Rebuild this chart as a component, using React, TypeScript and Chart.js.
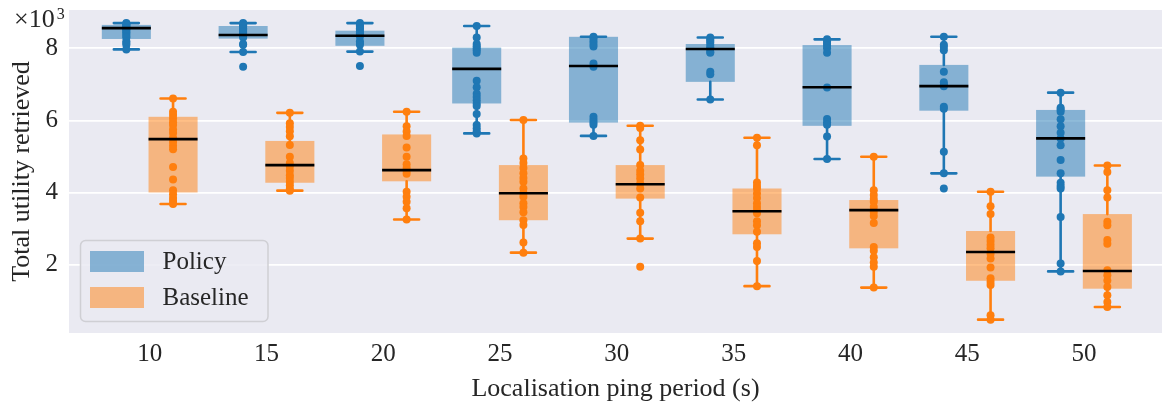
import React, { useEffect, useRef } from 'react';
import { Chart, registerables } from 'chart.js';

Chart.register(...registerables);

// ---------- data ----------
const periods = ['10', '15', '20', '25', '30', '35', '40', '45', '50'];
const yTickValues = [2000, 4000, 6000, 8000];

// Policy: individual runs per ping period
const policyPoints = [
  [8700, 8680, 8660, 8630, 8600, 8570, 8550, 8520, 8480, 8440, 8400, 8340, 8300, 8200, 8150, 8100, 7970],
  [8700, 8670, 8640, 8600, 8560, 8520, 8480, 8440, 8400, 8370, 8340, 8300, 8120, 8100, 7900, 7490],
  [8700, 8640, 8600, 8560, 8520, 8470, 8420, 8370, 8330, 8200, 8150, 8100, 7910, 7510],
  [8620, 8300, 8120, 8060, 8000, 7950, 7880, 7100, 6920, 6740, 6650, 6560, 6470, 6400, 6180, 5870, 5780, 5700, 5640],
  [8320, 8270, 8200, 8120, 8050, 7580, 7490, 6100, 6020, 5950, 5880, 5570],
  [8300, 8260, 8210, 8160, 8090, 8020, 7980, 7900, 7880, 7350, 7280, 6580],
  [8250, 8190, 8130, 8070, 8000, 7880, 6910, 6040, 5950, 5880, 5550, 4930],
  [8320, 8100, 8040, 7950, 7350, 7060, 6980, 6950, 6380, 6320, 5130, 4530, 4110],
  [6770, 6350, 6300, 6240, 6030, 5840, 5660, 5500, 5310, 4900, 4530, 4270, 4180, 4110, 3320, 2030, 1810],
];
const policyLow = [7970, 7900, 7910, 5640, 5570, 6580, 4930, 4530, 1810];
const policyQ1 = [8260, 8270, 8070, 6470, 5940, 7070, 5850, 6270, 4440];
const policyMedian = [8560, 8370, 8350, 7430, 7510, 7980, 6920, 6950, 5500];
const policyQ3 = [8650, 8620, 8490, 8020, 8320, 8120, 8090, 7540, 6290];
const policyHigh = [8700, 8700, 8700, 8620, 8320, 8300, 8250, 8320, 6770];

// Baseline: individual runs per ping period
const baselinePoints = [
  [6610, 6240, 6150, 6050, 5950, 5870, 5750, 5650, 5520, 5400, 5300, 5200, 4710, 4360, 4060, 3950, 3850, 3760, 3680],
  [6210, 5920, 5820, 5700, 5560, 5320, 4990, 4820, 4720, 4600, 4480, 4400, 4300, 4200, 4100, 4050],
  [6240, 5840, 5690, 5570, 5250, 4990, 4780, 4680, 4600, 4520, 4020, 3880, 3740, 3560, 3250],
  [6010, 4940, 4820, 4680, 4530, 4400, 4300, 4110, 3980, 3880, 3700, 3600, 3450, 3230, 3100, 2610, 2330],
  [5850, 5790, 5450, 5190, 4760, 4600, 4500, 4390, 4250, 4110, 3860, 3440, 3200, 2720, 1940],
  [5520, 5310, 4280, 4180, 4100, 3970, 3850, 3700, 3600, 3500, 3420, 3200, 3090, 2910, 2590, 2490, 2100, 1400],
  [4990, 4060, 3930, 3820, 3740, 3600, 3460, 3350, 3150, 2490, 2380, 2200, 2060, 1940, 1360],
  [4020, 3620, 3400, 2750, 2650, 2550, 2450, 2300, 2170, 1920, 1620, 1520, 1430, 590, 470],
  [4750, 4570, 4060, 3860, 3190, 3090, 2680, 2580, 1840, 1700, 1560, 1380, 1150, 960, 820],
];
const baselineLow = [3680, 4050, 3250, 2330, 2720, 1400, 1360, 470, 820];
const baselineQ1 = [4000, 4270, 4310, 3230, 3830, 2840, 2450, 1550, 1330];
const baselineMedian = [5480, 4760, 4620, 3980, 4230, 3480, 3510, 2350, 1820];
const baselineQ3 = [6100, 5430, 5610, 4760, 4760, 4110, 3790, 2930, 3400];
const baselineHigh = [6610, 6210, 6240, 6010, 5850, 5520, 4990, 4020, 4750];

// ---------- styling ----------
const FONT = "'Liberation Serif', 'Times New Roman', serif";
const TEXT = '#262626';
const PLOT_BG = '#EAEAF2';

const series = [
  {
    label: 'Policy', color: '#1f77b4', fill: 'rgba(31,119,180,0.5)', offset: -0.2,
    points: policyPoints, low: policyLow, q1: policyQ1, med: policyMedian, q3: policyQ3, high: policyHigh,
  },
  {
    label: 'Baseline', color: '#ff7f0e', fill: 'rgba(255,127,14,0.5)', offset: 0.2,
    points: baselinePoints, low: baselineLow, q1: baselineQ1, med: baselineMedian, q3: baselineQ3, high: baselineHigh,
  },
];

const BOX_HALF = 0.21;
const CAP_HALF = 0.107;

const boxPlugin = {
  id: 'boxPlot',
  beforeDraw(chart: any) {
    const { ctx, chartArea: a } = chart;
    ctx.save();
    ctx.fillStyle = PLOT_BG;
    ctx.fillRect(a.left, a.top, a.right - a.left, a.bottom - a.top);
    ctx.restore();
  },
  beforeDatasetsDraw(chart: any) {
    const { ctx, chartArea: a } = chart;
    const xs = chart.scales.x;
    const ys = chart.scales.y;
    ctx.save();
    ctx.beginPath();
    ctx.rect(a.left, a.top, a.right - a.left, a.bottom - a.top);
    ctx.clip();
    series.forEach((s) => {
      periods.forEach((_, i) => {
        const c = i + s.offset;
        const l = xs.getPixelForValue(c - BOX_HALF);
        const r = xs.getPixelForValue(c + BOX_HALF);
        const cx = xs.getPixelForValue(c);
        const top = ys.getPixelForValue(s.q3[i]);
        const bot = ys.getPixelForValue(s.q1[i]);
        ctx.fillStyle = s.fill;
        ctx.fillRect(l, top, r - l, bot - top);
        // whiskers
        ctx.strokeStyle = s.color;
        ctx.lineWidth = 2.6;
        ctx.lineCap = 'round';
        const hi = ys.getPixelForValue(s.high[i]);
        const lo = ys.getPixelForValue(s.low[i]);
        const cl = xs.getPixelForValue(c - CAP_HALF);
        const cr = xs.getPixelForValue(c + CAP_HALF);
        ctx.beginPath();
        ctx.moveTo(cx, top); ctx.lineTo(cx, hi);
        ctx.moveTo(cx, bot); ctx.lineTo(cx, lo);
        ctx.moveTo(cl, hi); ctx.lineTo(cr, hi);
        ctx.moveTo(cl, lo); ctx.lineTo(cr, lo);
        ctx.stroke();
      });
    });
    ctx.restore();
  },
  afterDatasetsDraw(chart: any) {
    const { ctx } = chart;
    const xs = chart.scales.x;
    const ys = chart.scales.y;
    ctx.save();
    ctx.strokeStyle = '#000000';
    ctx.lineWidth = 2.6;
    ctx.lineCap = 'butt';
    series.forEach((s) => {
      periods.forEach((_, i) => {
        const c = i + s.offset;
        const l = xs.getPixelForValue(c - BOX_HALF);
        const r = xs.getPixelForValue(c + BOX_HALF);
        const m = ys.getPixelForValue(s.med[i]);
        ctx.beginPath();
        ctx.moveTo(l, m); ctx.lineTo(r, m);
        ctx.stroke();
      });
    });
    ctx.restore();
  },
  afterDraw(chart: any) {
    const { ctx, chartArea: a } = chart;
    ctx.save();
    // offset label (x10^3)
    ctx.fillStyle = TEXT;
    ctx.textBaseline = 'alphabetic';
    ctx.textAlign = 'left';
    ctx.font = `26px ${FONT}`;
    ctx.fillText('×10', 14, 27);
    const w = ctx.measureText('×10').width;
    ctx.font = `16px ${FONT}`;
    ctx.fillText('3', 14 + w + 2, 18.5);

    // legend
    const fx = a.left + 11.5;
    const fy = a.bottom - 92.5;
    const fw = 187.5;
    const fh = 81;
    ctx.beginPath();
    ctx.roundRect(fx, fy, fw, fh, 5);
    ctx.fillStyle = 'rgba(234,234,242,0.85)';
    ctx.fill();
    ctx.strokeStyle = '#cfcfd4';
    ctx.lineWidth = 1.5;
    ctx.stroke();
    ctx.font = `25px ${FONT}`;
    ctx.textBaseline = 'middle';
    series.forEach((s, k) => {
      const cy = fy + 21 + k * 36;
      ctx.fillStyle = s.fill;
      ctx.fillRect(fx + 9.5, cy - 10.5, 54, 21);
      ctx.fillStyle = TEXT;
      ctx.fillText(s.label, fx + 82, cy + 1);
    });
    ctx.restore();
  },
};

export default function App() {
  const ref = useRef<HTMLCanvasElement | null>(null);

  useEffect(() => {
    if (!ref.current) return;
    const datasets = series.map((s) => ({
      label: s.label,
      data: s.points.flatMap((vals, i) => vals.map((v) => ({ x: i + s.offset, y: v }))),
      backgroundColor: s.color,
      borderColor: s.color,
      pointRadius: 4,
      pointBorderWidth: 0,
      pointHoverRadius: 4,
      showLine: false,
    }));

    const chart = new Chart(ref.current, {
      type: 'scatter',
      data: { datasets },
      plugins: [boxPlugin],
      options: {
        animation: false,
        responsive: false,
        devicePixelRatio: 1,
        events: [],
        layout: { padding: { top: 10, left: 0, right: 0, bottom: 0 } },
        plugins: {
          legend: { display: false },
          tooltip: { enabled: false },
        },
        scales: {
          x: {
            type: 'linear',
            min: -0.691,
            max: 8.668,
            afterBuildTicks: (scale: any) => {
              scale.ticks = periods.map((_, i) => ({ value: i }));
            },
            afterFit: (scale: any) => {
              scale.height = 72;
              scale.paddingLeft = 0;
              scale.paddingRight = 0;
            },
            grid: { display: false, drawTicks: false },
            border: { display: false },
            ticks: {
              autoSkip: false,
              maxRotation: 0,
              padding: 6,
              color: TEXT,
              font: { family: FONT, size: 25 },
              callback: (v: any) => periods[Math.round(Number(v))] ?? '',
            },
            title: {
              display: true,
              text: 'Localisation ping period (s)',
              color: TEXT,
              font: { family: FONT, size: 26 },
              padding: { top: 0, bottom: 0 },
            },
          },
          y: {
            type: 'linear',
            min: 100,
            max: 9064,
            afterBuildTicks: (scale: any) => {
              scale.ticks = yTickValues.map((v) => ({ value: v }));
            },
            afterFit: (scale: any) => {
              scale.width = 69;
              scale.paddingTop = 0;
              scale.paddingBottom = 0;
            },
            grid: { color: '#ffffff', lineWidth: 1.8, drawTicks: false },
            border: { display: false },
            ticks: {
              padding: 11,
              color: TEXT,
              font: { family: FONT, size: 25 },
              callback: (v: any) => String(Number(v) / 1000),
            },
            title: {
              display: true,
              text: 'Total utility retrieved',
              color: TEXT,
              font: { family: FONT, size: 26 },
              padding: { top: 7, bottom: 0 },
            },
          },
        },
      } as any,
    });
    return () => chart.destroy();
  }, []);

  return (
    <div style={{ position: 'fixed', left: 0, top: 0, width: 1166, height: 405, background: '#ffffff' }}>
      <canvas ref={ref} width={1166} height={405} style={{ display: 'block', width: 1166, height: 405 }} />
    </div>
  );
}
